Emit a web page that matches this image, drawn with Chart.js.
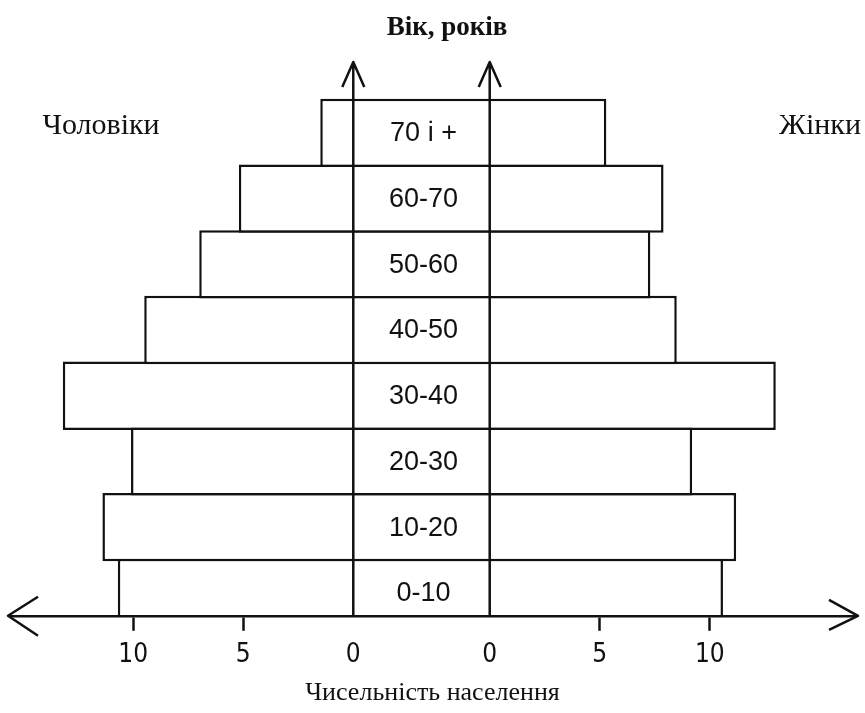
<!DOCTYPE html>
<html lang="uk">
<head>
<meta charset="utf-8">
<title>Віково-статева піраміда</title>
<script src="https://cdn.jsdelivr.net/npm/chart.js@4.4.1/dist/chart.umd.min.js"></script>
<style>
  html, body { margin: 0; padding: 0; background: #fff; }
  #wrap { width: 865px; height: 713px; position: relative; }
</style>
</head>
<body>
<div id="wrap"><canvas id="pyramid"></canvas></div>
<script>
// вікові групи знизу вгору
const ageGroups = ["0-10", "10-20", "20-30", "30-40", "40-50", "50-60", "60-70", "70 і +"];
const ageMid = [5, 15, 25, 35, 45, 55, 65, 75];
const men = [10.7, 11.4, 10.1, 13.2, 9.5, 7.0, 5.2, 1.5];
const women = [10.6, 11.2, 9.2, 13.0, 8.5, 7.3, 7.9, 5.3];
const tickSteps = [10, 5, 0];

const GAP = 3.1; // half of the middle column (between the two age axes), in axis units
const INK = "#111";
const SERIF = "'Liberation Serif', 'Times New Roman', serif";

const tickValues = tickSteps.map(v => -GAP - v).concat(tickSteps.slice().reverse().map(v => GAP + v));

const bars = ageMid.map((a, i) => ({ y: a, x: [-(GAP + men[i]), GAP + women[i]] }));

const pyramidDecor = {
  id: "pyramidDecor",
  afterDatasetsDraw(chart) {
    const { ctx, chartArea: a, scales: { x } } = chart;
    const left0 = x.getPixelForValue(-GAP);
    const right0 = x.getPixelForValue(GAP);

    ctx.save();
    ctx.strokeStyle = INK;
    ctx.lineWidth = 2.5;
    ctx.lineJoin = "round";

    // два вертикальні осі віку зі стрілками
    [left0, right0].forEach(px => {
      ctx.beginPath();
      ctx.moveTo(px, a.bottom);
      ctx.lineTo(px, a.top);
      ctx.moveTo(px - 11, a.top + 25);
      ctx.lineTo(px, a.top);
      ctx.lineTo(px + 11, a.top + 25);
      ctx.stroke();
    });

    // стрілки на горизонтальній осі
    ctx.beginPath();
    ctx.moveTo(a.left + 28, a.bottom - 19);
    ctx.lineTo(a.left - 2, a.bottom);
    ctx.lineTo(a.left + 28, a.bottom + 20);
    ctx.moveTo(a.right - 26, a.bottom - 16);
    ctx.lineTo(a.right + 3, a.bottom);
    ctx.lineTo(a.right - 26, a.bottom + 14);
    ctx.stroke();

    // підписи вікових груп
    const meta = chart.getDatasetMeta(0);
    const mid = x.getPixelForValue(0);
    ctx.fillStyle = INK;
    ctx.font = "27px 'Liberation Sans', Arial, sans-serif";
    ctx.textAlign = "center";
    ctx.textBaseline = "middle";
    meta.data.forEach((bar, i) => {
      ctx.fillText(ageGroups[i], mid + 2, bar.y + 1);
    });

    ctx.font = "bold 27px " + SERIF;
    ctx.fillText("Вік, років", 447, 28);
    ctx.font = "30px " + SERIF;
    ctx.fillText("Чоловіки", 101, 126);
    ctx.fillText("Жінки", 820, 126);
    ctx.restore();
  }
};

new Chart(document.getElementById("pyramid").getContext("2d"), {
  type: "bar",
  data: {
    labels: ageGroups,
    datasets: [
      {
        data: bars,
        backgroundColor: "#fff",
        borderColor: INK,
        borderWidth: 2.5,
        borderSkipped: false,
        // трохи більше 1, щоб межі сусідніх смуг злилися в одну лінію
        barPercentage: 1.04,
        categoryPercentage: 1,
        clip: 0,
      },
    ],
  },
  options: {
    indexAxis: "y",
    responsive: true,
    maintainAspectRatio: false,
    animation: false,
    layout: { padding: { top: 62, left: 10, right: 10, bottom: 0 } },
    plugins: {
      legend: { display: false },
      tooltip: { enabled: false },
    },
    scales: {
      x: {
        type: "linear",
        min: -18.7,
        max: 19.7,
        afterBuildTicks: scale => {
          scale.ticks = tickValues.map(v => ({ value: v }));
        },
        ticks: {
          padding: 9,
          color: INK,
          font: { family: "'Liberation Sans Narrow', 'DejaVu Sans Condensed', sans-serif", size: 26 },
          callback: v => String(Math.round(Math.abs(v) - GAP)),
        },
        grid: {
          drawOnChartArea: false,
          tickLength: 15,
          tickWidth: 2.5,
          tickColor: c => (Math.abs(Math.abs(c.tick.value) - GAP) < 0.01 ? "rgba(0,0,0,0)" : INK),
          z: 1,
        },
        border: { display: true, color: INK, width: 2.5, z: 1 },
        title: {
          display: true,
          text: "Чисельність населення",
          color: INK,
          font: { family: SERIF, size: 26, lineHeight: 1 },
          padding: { top: 0, bottom: 7 },
        },
      },
      y: {
        type: "linear",
        display: false,
        offset: false,
        min: 1.5,
        max: 85.8,
        afterBuildTicks: scale => {
          scale.ticks = ageMid.map(v => ({ value: v }));
        },
      },
    },
  },
  plugins: [pyramidDecor],
});
</script>
</body>
</html>
